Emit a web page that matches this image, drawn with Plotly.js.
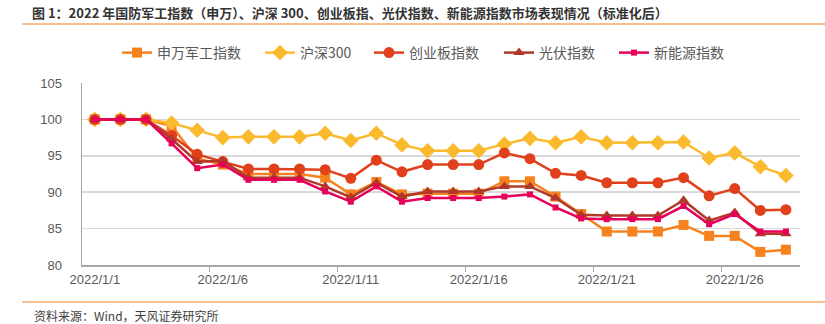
<!DOCTYPE html>
<html>
<head>
<meta charset="utf-8">
<script src="https://cdn.plot.ly/plotly-3.0.1.min.js"></script>
<style>html,body{margin:0;padding:0;background:#fff;}#chart{width:825px;height:324px;}</style>
</head>
<body>
<div id="chart"></div>
<script>
const dates = ['2022-01-01','2022-01-02','2022-01-03','2022-01-04','2022-01-05','2022-01-06','2022-01-07',
  '2022-01-08','2022-01-09','2022-01-10','2022-01-11','2022-01-12','2022-01-13','2022-01-14',
  '2022-01-15','2022-01-16','2022-01-17','2022-01-18','2022-01-19','2022-01-20','2022-01-21',
  '2022-01-22','2022-01-23','2022-01-24','2022-01-25','2022-01-26','2022-01-27','2022-01-28'];
const military = [100,100,100,99.1,94.6,93.8,92.5,92.5,92.5,92.0,89.7,91.4,89.7,89.8,89.8,89.8,91.5,91.5,89.4,87.0,84.6,84.6,84.6,85.5,84.0,84.0,81.8,82.1];
const hs300 = [100,100,100,99.5,98.5,97.5,97.6,97.6,97.6,98.1,97.1,98.1,96.5,95.7,95.7,95.7,96.6,97.4,96.8,97.6,96.8,96.8,96.8,96.9,94.7,95.4,93.5,92.3];
const chinext = [100,100,100,97.8,95.2,94.2,93.2,93.2,93.2,93.1,91.9,94.4,92.8,93.8,93.8,93.8,95.4,94.6,92.6,92.3,91.3,91.3,91.3,92.0,89.5,90.5,87.5,87.6];
const pv = [100,100,100,97.3,94.2,94.3,92.0,92.0,92.0,90.8,89.3,91.3,89.4,90.1,90.1,90.1,90.8,90.8,89.2,86.9,86.8,86.8,86.8,88.9,86.1,87.2,84.3,84.3];
const newEnergy = [100,100,100,96.7,93.3,93.8,91.7,91.7,91.7,90.1,88.7,90.8,88.7,89.2,89.2,89.2,89.4,89.7,87.9,86.4,86.3,86.3,86.3,88.1,85.6,87.0,84.6,84.6];
const seriesNames = ['申万军工指数','沪深300','创业板指数','光伏指数','新能源指数'];
const labelDates = ['2022-01-01','2022-01-06','2022-01-11','2022-01-16','2022-01-21','2022-01-26'];
const tickLabels = ['2022/1/1','2022/1/6','2022/1/11','2022/1/16','2022/1/21','2022/1/26'];
const tickMarkDates = ['2022-01-05 12:00','2022-01-10 12:00','2022-01-15 12:00','2022-01-20 12:00','2022-01-25 12:00'];
const titleText = '图 1：2022 年国防军工指数（申万）、沪深 300、创业板指、光伏指数、新能源指数市场表现情况（标准化后）';
const sourceText = '资料来源：Wind，天风证券研究所';

const styles = [
  {color:'#F5821F', symbol:'square', size:10},
  {color:'#FBBA2D', symbol:'diamond', size:12},
  {color:'#E0401B', symbol:'circle', size:11},
  {color:'#B0392A', symbol:'triangle-up', size:10},
  {color:'#E6005A', symbol:'square', size:6}
];
const legendIds = ['legend','legend2','legend3','legend4','legend5'];
const legendStarts = [125, 268, 377, 507, 622];
const values = [military, hs300, chinext, pv, newEnergy];
const traces = values.map((v,i)=>({
  x: dates, y: v, name: seriesNames[i], type:'scatter', mode:'lines+markers',
  legend: legendIds[i],
  line:{color:styles[i].color, width:2.5},
  marker:{color:styles[i].color, symbol:styles[i].symbol, size:styles[i].size}
}));

const L = 82, R = 800, T = 83.3, B = 265;
const px = x => (x - L)/(R - L);
const py = y => (B - y)/(B - T);

const layout = {
  width:825, height:324,
  margin:{l:L, r:825-R, t:T, b:324-B, pad:0},
  paper_bgcolor:'#fff', plot_bgcolor:'#fff',
  font:{family:'"Liberation Sans", Arial, "Noto Sans CJK SC", sans-serif', color:'#595959', size:13},
  showlegend:true,
  title:{text:titleText, xref:'container', yref:'container', x:32/825, xanchor:'left', y:1-13/324, yanchor:'middle',
    font:{family:'"Noto Sans CJK SC", sans-serif', size:13, color:'#333333', weight:'bold'}},
  xaxis:{type:'date', range:['2021-12-31 12:00','2022-01-28 13:12'],
    tickmode:'array', tickvals:labelDates, ticktext:tickLabels, ticks:'',
    minor:{tickmode:'array', tickvals:tickMarkDates, ticks:'outside', ticklen:5, tickcolor:'#A6A6A6', tickwidth:1, showgrid:false},
    showline:true, linecolor:'#A6A6A6', linewidth:1.5, showgrid:false, zeroline:false,
    ticklabelstandoff:2,
    tickfont:{size:13, color:'#595959'}},
  yaxis:{range:[80,105], tickvals:[80,85,90,95,100,105], ticks:'', showline:true, linecolor:'#A6A6A6', linewidth:1.5,
    showgrid:true, gridcolor:'#D9D9D9', gridwidth:1.5, zeroline:false, ticklabelstandoff:16,
    tickfont:{size:13, color:'#595959'}},
  shapes:[
    {type:'line', xref:'paper', yref:'paper', x0:px(22), x1:px(825), y0:py(24.5), y1:py(24.5), line:{color:'#F7A868', width:1.5}},
    {type:'line', xref:'paper', yref:'paper', x0:px(22), x1:px(825), y0:py(302), y1:py(302), line:{color:'#F7A868', width:1.5}}
  ],
  annotations:[
    {text:sourceText, xref:'paper', yref:'paper', x:px(32), y:py(315), xanchor:'left', yanchor:'middle', showarrow:false,
     font:{family:'"Noto Sans CJK SC", sans-serif', size:12, color:'#404040'}}
  ]
};
legendIds.forEach((id,i)=>{
  layout[id] = {orientation:'h', xref:'container', yref:'container', x:(legendStarts[i]-8)/825, xanchor:'left',
    y:1-53/324, yanchor:'middle', bgcolor:'rgba(0,0,0,0)', borderwidth:0, itemwidth:30,
    font:{family:'"Noto Sans CJK SC", sans-serif', size:14, color:'#595959'}};
});
Plotly.newPlot('chart', traces, layout, {staticPlot:true, displayModeBar:false});
</script>
</body>
</html>
